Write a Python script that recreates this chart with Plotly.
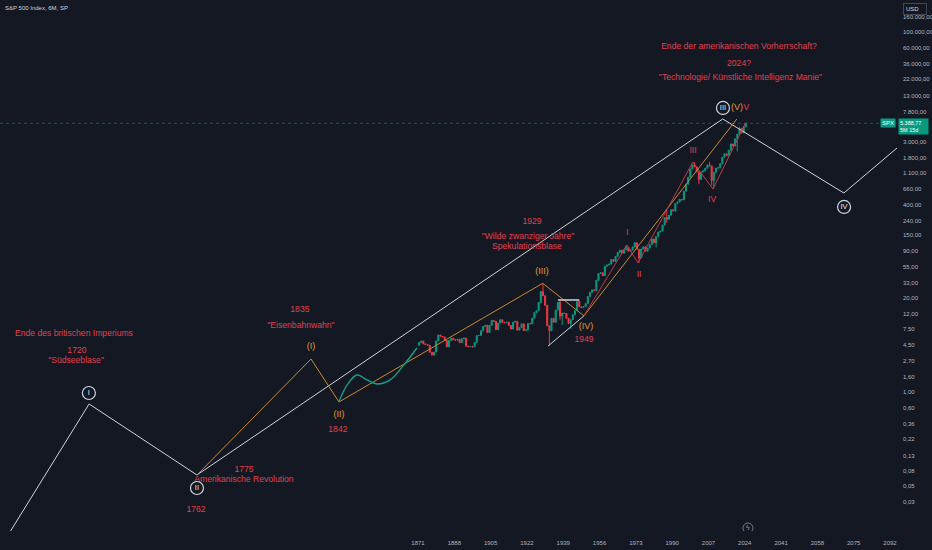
import numpy as np
import plotly.graph_objects as go

"""
S&P 500 (6M) with a long-term Elliott wave count drawn on a log scale
"""

# --- price data: January levels 1871..2024 and the last print -------------
candle_years = list(range(1871, 2025))
jan_levels = [
    4.44, 4.86, 5.11, 4.66, 4.54, 4.46, 3.55, 3.25, 3.58, 5.11,
    6.19, 5.92, 5.81, 5.18, 4.24, 5.20, 5.58, 5.31, 5.24, 5.38,
    4.84, 5.51, 5.61, 4.32, 4.25, 4.27, 4.22, 4.88, 6.08, 6.10,
    7.07, 8.12, 8.46, 6.68, 8.43, 9.87, 9.56, 7.31, 9.06, 10.08,
    9.27, 9.12, 9.30, 8.37, 7.48, 9.33, 9.57, 7.21, 7.85, 8.83,
    7.11, 7.30, 8.90, 8.83, 10.58, 12.65, 13.40, 17.53, 24.86, 21.71,
    15.98, 8.30, 7.09, 10.54, 9.26, 13.76, 17.59, 11.31, 12.50, 12.30,
    10.55, 8.93, 10.09, 11.85, 13.49, 18.02, 15.21, 14.83, 15.36, 16.88,
    21.21, 24.19, 26.18, 25.46, 35.60, 44.15, 45.43, 41.12, 55.62, 58.03,
    59.72, 69.07, 65.06, 76.45, 86.12, 93.32, 84.45, 95.04, 102.0, 90.31,
    93.49, 103.3, 118.4, 96.11, 72.56, 96.86, 103.8, 90.25, 99.71, 110.9,
    133.0, 117.3, 144.3, 166.4, 171.6, 208.2, 264.5, 250.5, 285.4, 339.97,
    325.5, 416.1, 435.2, 472.99, 465.25, 614.42, 766.22, 963.36, 1248.77, 1425.59,
    1335.63, 1140.21, 895.84, 1132.52, 1181.41, 1278.73, 1424.16, 1378.76, 865.58, 1123.58,
    1282.62, 1300.58, 1480.40, 1822.36, 2028.18, 1918.60, 2275.12, 2789.80, 2607.39, 3278.20,
    3793.75, 4573.82, 3960.66, 4815.61,
]
last_price = 5388.77

# wick extremes inside the yearly candles
wick_highs = {1929: 31.9, 1937: 18.7, 1946: 19.3, 1968: 108.4, 1972: 120.2,
              1987: 337.0, 2000: 1553.0, 2007: 1576.0, 2021: 4818.0, 2024: 5390.0}
wick_lows = {1932: 4.40, 1937: 10.2, 1938: 8.5, 1942: 7.5, 1974: 62.3, 1982: 102.2,
             1987: 223.0, 2002: 768.0, 2008: 741.0, 2009: 666.8, 2020: 2191.0}

# hand drawn curve 1834..1871
curve_years = [1834.0, 1837.8, 1842.4, 1847.1, 1851.8, 1857.9, 1864.0, 1870.5]
curve_values = [0.73, 1.25, 1.72, 1.47, 1.29, 1.47, 2.30, 4.08]

# --- wave counts ----------------------------------------------------------
cycle_years = [1675.3, 1717.0, 1767.5, 2013.7, 2070.4, 2095.3]
cycle_values = [0.0068, 0.681, 0.0703, 6190, 580, 2449]

primary_years = [1767.5, 1820.9, 1834.0, 1929.4, 1948.7, 2020.3]
primary_values = [0.0703, 2.87, 0.726, 32.3, 11.4, 6190]

minor_years = [1948.7, 1968.8, 1974.0, 1999.7, 2009.1, 2024.4]
minor_values = [11.4, 110, 61.9, 1564, 660, 5490]

triangle_years = [1931.9, 1948.7]
triangle_values = [4.35, 11.4]
flat_years = [1936.5, 1946.4]
flat_values = [18.95, 18.95]

# --- labels (year, value, text) -------------------------------------------
red_labels = [
    (1709.9, 6.4, "Ende des britischen Imperiums"),
    (1711.3, 3.71, "1720"),
    (1710.9, 2.70, "\"Südseeblase\""),
    (1767.1, 0.0230, "1762"),
    (1789.5, 0.0825, "1775"),
    (1789.5, 0.0600, "Amerikanische Revolution"),
    (1815.7, 13.8, "1835"),
    (1816.2, 8.25, "\"Eisenbahnwahn\""),
    (1833.5, 0.297, "1842"),
    (1924.4, 229, "1929"),
    (1922.5, 142, "\"Wilde zwanziger Jahre\""),
    (1922.0, 103, "Spekulationsblase"),
    (1948.7, 5.27, "1949"),
    (1968.9, 162, "I"),
    (1974.5, 42.2, "II"),
    (1999.8, 2225, "III"),
    (2008.7, 464, "IV"),
    (2024.8, 8800, "V"),
    (2021.3, 61700, "Ende der amerikanischen Vorherrschaft?"),
    (2021.3, 35900, "2024?"),
    (2022.0, 22960, "\"Technologie/ Künstliche Intelligenz Manie\""),
]
orange_labels = [
    (1820.9, 4.22, "(I)"),
    (1834.0, 0.479, "(II)"),
    (1929.1, 46.4, "(III)"),
    (1949.7, 8.0, "(IV)"),
    (2020.4, 8800, "(V)"),
]
circle_labels = [
    (1716.9, 0.968, "I"),
    (1767.5, 0.0464, "II"),
    (2013.8, 8800, "III"),
    (2070.5, 371, "IV"),
]

x_ticks = [1871, 1888, 1905, 1922, 1939, 1956, 1973, 1990, 2007, 2024, 2041, 2058, 2075, 2092]
y_ticks = [160000, 100000, 60000, 36000, 22000, 13000, 7800, 3000, 1800, 1100, 660, 400,
           240, 150, 90, 55, 33, 20, 12, 7.5, 4.5, 2.7, 1.6, 1.0, 0.6, 0.36, 0.22, 0.13,
           0.08, 0.05, 0.03]

BG = "#141823"
RED = "#e0404f"
ORANGE = "#e0982e"
WHITE_LINE = "#cfd2d9"
TEXT_FONT = "Liberation Sans, Arial, sans-serif"


def fmt_de(value: float) -> str:
    """German style number: 160.000,00"""
    return f"{value:,.2f}".replace(",", "X").replace(".", ",").replace("X", ".")


def build_candles():
    opens = jan_levels
    closes = jan_levels[1:] + [last_price]
    highs, lows = [], []
    for year, o, c in zip(candle_years, opens, closes):
        highs.append(wick_highs.get(year, max(o, c)))
        lows.append(wick_lows.get(year, min(o, c)))
    x = [y + 0.5 for y in candle_years]
    return go.Candlestick(
        x=x, open=opens, high=highs, low=lows, close=closes,
        increasing=dict(line=dict(color="#089981", width=1), fillcolor="#089981"),
        decreasing=dict(line=dict(color="#f23645", width=1), fillcolor="#f23645"),
        whiskerwidth=0, showlegend=False, hoverinfo="skip",
    )


def line_trace(xs, ys, color, width=1, dash="solid", shape="linear"):
    return go.Scatter(x=xs, y=ys, mode="lines", showlegend=False, hoverinfo="skip",
                      line=dict(color=color, width=width, dash=dash, shape=shape))


def text_trace(labels, color, size):
    return go.Scatter(
        x=[l[0] for l in labels], y=[l[1] for l in labels], text=[l[2] for l in labels],
        mode="text", textposition="middle center", showlegend=False, hoverinfo="skip",
        textfont=dict(color=color, size=size, family=TEXT_FONT),
    )


x_range = [1675.28, 2095.28]

fig = go.Figure()
fig.add_trace(line_trace(x_range, [last_price, last_price], "rgba(8,153,129,0.55)", dash="dot"))
fig.add_trace(line_trace(cycle_years, cycle_values, WHITE_LINE))
fig.add_trace(line_trace(primary_years, primary_values, "#c98a2f"))
fig.add_trace(line_trace(minor_years, minor_values, "#c23a4b"))
fig.add_trace(line_trace(triangle_years, triangle_values, WHITE_LINE))
fig.add_trace(line_trace(flat_years, flat_values, WHITE_LINE, width=1.5))
fig.add_trace(line_trace(curve_years, curve_values, "#14a38c", width=1.3, shape="spline"))
fig.add_trace(build_candles())
fig.add_trace(text_trace(red_labels, RED, 8.6))
fig.add_trace(text_trace(orange_labels, ORANGE, 9))

# circled cycle degree labels
fig.add_trace(go.Scatter(
    x=[c[0] for c in circle_labels], y=[c[1] for c in circle_labels],
    text=[c[2] for c in circle_labels], mode="markers+text", textposition="middle center",
    marker=dict(symbol="circle", size=13, color=BG, line=dict(color="#d1d4dc", width=1.2)),
    textfont=dict(color="#e8eaef", size=7.5, family=TEXT_FONT),
    showlegend=False, hoverinfo="skip",
))

# small replay icon near the time axis
fig.add_trace(go.Scatter(
    x=[2025.5], y=[0.0129], text=["ϟ"], mode="markers+text", textposition="middle center",
    marker=dict(symbol="circle-open", size=10, color="#787b86", line=dict(width=1)),
    textfont=dict(color="#9598a1", size=7), showlegend=False, hoverinfo="skip",
))

fig.update_layout(
    width=932, height=550,
    margin=dict(l=0, r=35, t=0, b=19),
    paper_bgcolor=BG, plot_bgcolor=BG,
    font=dict(family=TEXT_FONT, color="#b2b5be", size=6),
    xaxis=dict(range=x_range, tickvals=x_ticks, ticktext=[str(t) for t in x_ticks],
               showgrid=False, zeroline=False, showline=False, ticks="",
               tickfont=dict(size=6, color="#b2b5be"), ticklabelstandoff=7,
               rangeslider=dict(visible=False), fixedrange=True, automargin=False),
    yaxis=dict(type="log", range=[-1.931, 5.444], side="right",
               tickvals=y_ticks, ticktext=[fmt_de(v) for v in y_ticks],
               showgrid=False, zeroline=False, showline=False, ticks="",
               tickfont=dict(size=6, color="#b2b5be"), ticklabelstandoff=5,
               fixedrange=True, automargin=False),
)

# title, currency box and price tag
fig.add_annotation(xref="paper", yref="paper", x=0, y=1, xanchor="left", yanchor="top",
                   xshift=3, yshift=-3, text="S&P 500 Index, 6M, SP", showarrow=False,
                   font=dict(size=6, color="#d1d4dc"))
fig.add_annotation(xref="paper", yref="paper", x=1, y=1, xanchor="left", yanchor="top",
                   xshift=6, yshift=-3, text="USD", showarrow=False,
                   bordercolor="#434651", borderwidth=1, borderpad=2, bgcolor=BG,
                   font=dict(size=6, color="#d1d4dc"), width=18, align="left")
fig.add_annotation(xref="paper", yref="y", x=1, y=np.log10(last_price), xanchor="left",
                   yanchor="middle", xshift=1, yshift=-3, showarrow=False,
                   text=f"{fmt_de(last_price)}<br>5M 15d", bgcolor="#089981", borderpad=1,
                   font=dict(size=5.5, color="#ffffff"), align="left", width=27)
fig.add_annotation(xref="paper", yref="y", x=1, y=np.log10(last_price), xanchor="right",
                   yanchor="middle", xshift=-1, showarrow=False, text="SPX",
                   bgcolor="#089981", borderpad=1, font=dict(size=6, color="#ffffff"))

# page body margin off, so the 932x550 figure fills the window exactly
fig.write_html("out.html", config={"displayModeBar": False},
               post_script="document.body.style.margin='0';")
